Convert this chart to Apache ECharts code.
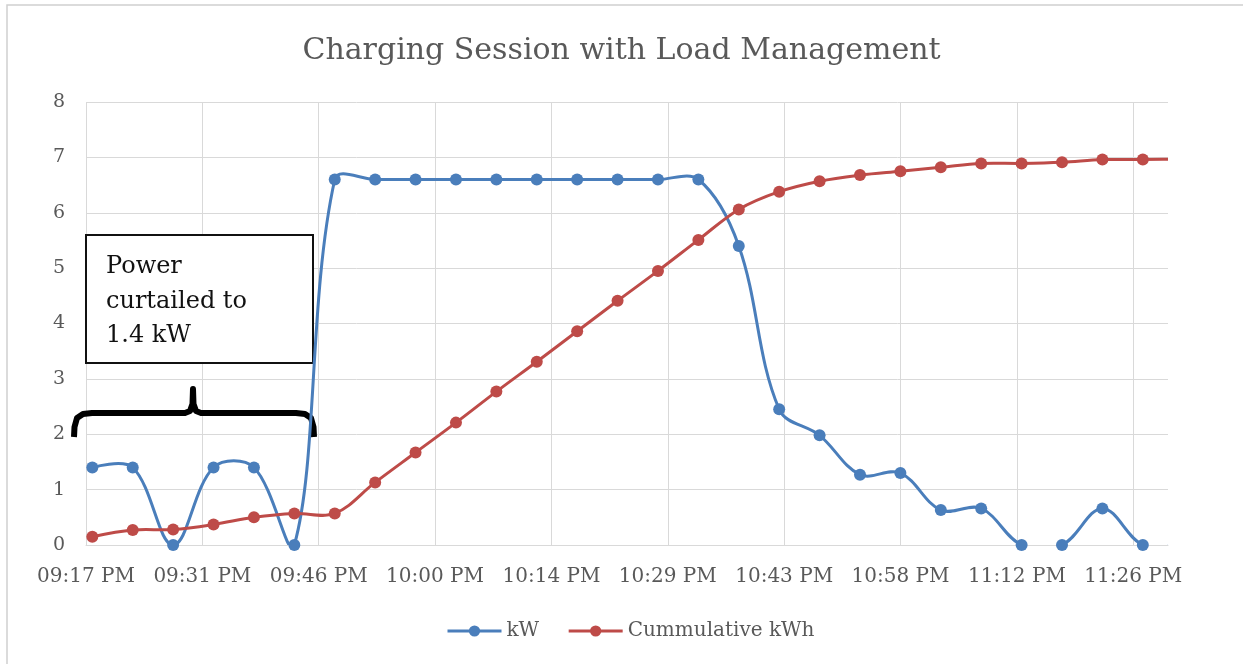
<!DOCTYPE html>
<html>
<head>
<meta charset="utf-8">
<script src="https://cdn.jsdelivr.net/npm/echarts@6/dist/echarts.min.js"></script>
<style>
  html, body { margin: 0; padding: 0; background: #fff; }
  #chart { width: 1243px; height: 664px; }
</style>
</head>
<body>
<div id="chart"></div>
<script>
// axis starts at 21:17, labels every 14.4 min (0.01 day, like the Excel date axis)
var axisStart = '21:17:00';
var axisEnd = '23:30:54';
var labelStep = 14.4;
var tickLabels = ['09:17 PM', '09:31 PM', '09:46 PM', '10:00 PM', '10:14 PM',
                  '10:29 PM', '10:43 PM', '10:58 PM', '11:12 PM', '11:26 PM'];

// sample times (the last two sit past the right edge)
var times = ['21:17:47', '21:22:47', '21:27:47', '21:32:47', '21:37:47', '21:42:47',
             '21:47:47', '21:52:47', '21:57:47', '22:02:47', '22:07:47', '22:12:47',
             '22:17:47', '22:22:47', '22:27:47', '22:32:47', '22:37:47', '22:42:47',
             '22:47:47', '22:52:47', '22:57:47', '23:02:47', '23:07:47', '23:12:47',
             '23:17:47', '23:22:47', '23:27:47', '23:32:47', '23:37:47'];

var kW = [1.4, 1.4, 0, 1.4, 1.4, 0, 6.6, 6.6, 6.6, 6.6, 6.6, 6.6, 6.6, 6.6,
          6.6, 6.6, 5.4, 2.45, 1.98, 1.27, 1.3, 0.63, 0.66, 0, 0, 0.66, 0, 0, 0];
var kWh = [0.15, 0.27, 0.28, 0.37, 0.5, 0.57, 0.57, 1.13, 1.67, 2.21, 2.77, 3.31, 3.86, 4.41,
           4.95, 5.51, 6.06, 6.38, 6.57, 6.68, 6.75, 6.82, 6.89, 6.89, 6.91, 6.96, 6.96, 6.97, 6.97];

var BLUE = '#4A7EBB';
var RED = '#BE4B48';
var GRID = '#D9D9D9';
var TXT = '#595959';
var FONT = '"DejaVu Serif", serif';

function toMin(s) {
    var p = s.split(':');
    return (+p[0]) * 60 + (+p[1]) + (+p[2]) / 60;
}
var t0 = toMin(axisStart);
var xs = times.map(function (s) { return toMin(s) - t0; });
var xMax = toMin(axisEnd) - t0;
var tickVals = tickLabels.map(function (l, k) { return k * labelStep; });

// Excel style smoothed line, no clamping of the control points
function curve(name, vals, color, z) {
    return {
        type: 'custom',
        name: name,
        z: z,
        clip: true,
        silent: true,
        data: vals.map(function (v, i) { return [xs[i], v]; }),
        renderItem: function (params, api) {
            var i = params.dataIndex;
            var n = vals.length;
            if (i >= n - 1) return;
            var P = function (k) {
                k = Math.max(0, Math.min(n - 1, k));
                return api.coord([xs[k], vals[k]]);
            };
            var s = 0.36;
            var p0 = P(i - 1), p1 = P(i), p2 = P(i + 1), p3 = P(i + 2);
            var d = function (a, b) { return Math.sqrt((a[0] - b[0]) * (a[0] - b[0]) + (a[1] - b[1]) * (a[1] - b[1])); };
            var c1 = p1.slice(), c2 = p2.slice();
            if (i > 0) {
                var r1 = d(p1, p2) / (d(p0, p1) + d(p1, p2));
                c1 = [p1[0] + (p2[0] - p0[0]) * s * r1, p1[1] + (p2[1] - p0[1]) * s * r1];
            }
            if (i + 1 < n - 1) {
                var r2 = d(p1, p2) / (d(p1, p2) + d(p2, p3));
                c2 = [p2[0] - (p3[0] - p1[0]) * s * r2, p2[1] - (p3[1] - p1[1]) * s * r2];
            }
            var cs = params.coordSys;
            return {
                type: 'bezierCurve',
                shape: { x1: p1[0], y1: p1[1], x2: p2[0], y2: p2[1],
                         cpx1: c1[0], cpy1: c1[1], cpx2: c2[0], cpy2: c2[1] },
                style: { stroke: color, lineWidth: 3, fill: null, lineCap: 'round' },
                clipPath: { type: 'rect', shape: { x: cs.x, y: cs.y - 2, width: cs.width, height: cs.height + 3 } }
            };
        }
    };
}

function markers(name, vals, color, z) {
    return {
        type: 'line',
        name: name,
        z: z,
        data: vals.map(function (v, i) { return [xs[i], v]; }),
        symbol: 'circle',
        symbolSize: 12,
        showSymbol: true,
        clip: true,
        itemStyle: { color: color },
        lineStyle: { color: color, width: 3, opacity: 0 },
        emphasis: { disabled: true }
    };
}

// curly bracket under the note
var bracePts = [[74, 437], [74.5, 427], [77, 418], [83, 414], [92, 413], [185, 413],
                [190, 411], [192.5, 404], [193, 389], [193.5, 404], [196, 411], [201, 413],
                [296, 413], [305, 414], [311, 418], [313.5, 427], [314, 437]];

var chart = echarts.init(document.getElementById('chart'));
chart.setOption({
    animation: false,
    title: {
        text: 'Charging Session with Load Management',
        left: 'center',
        top: 31,
        textStyle: { fontFamily: FONT, fontSize: 30, fontWeight: 'normal', color: TXT }
    },
    legend: {
        left: 441,
        top: 616,
        itemWidth: 54,
        itemHeight: 14,
        itemGap: 28,
        textStyle: { fontFamily: FONT, fontSize: 20, color: TXT },
        data: [
            { name: 'kW', lineStyle: { color: BLUE, width: 3, opacity: 1 } },
            { name: 'Cummulative kWh', lineStyle: { color: RED, width: 3, opacity: 1 } }
        ]
    },
    grid: { left: 86, right: 75, top: 102, bottom: 119 },
    xAxis: {
        type: 'value',
        min: 0,
        max: xMax,
        interval: labelStep,
        axisLine: { show: true, lineStyle: { color: GRID, width: 1 } },
        axisTick: { show: false, customValues: tickVals },
        axisLabel: {
            customValues: tickVals,
            margin: 22,
            fontFamily: FONT,
            fontSize: 20,
            color: TXT,
            formatter: function (v) {
                var k = Math.round(v / labelStep);
                return Math.abs(v - k * labelStep) < 0.01 ? tickLabels[k] : '';
            }
        },
        splitLine: { show: true, lineStyle: { color: GRID, width: 1 } }
    },
    yAxis: {
        type: 'value',
        min: 0,
        max: 8,
        interval: 1,
        axisLine: { show: false },
        axisTick: { show: false },
        axisLabel: { margin: 21, fontFamily: FONT, fontSize: 19, color: TXT },
        splitLine: { lineStyle: { color: GRID, width: 1 } }
    },
    graphic: [
        { type: 'rect', z: 0, silent: true,
          shape: { x: 7, y: 5, width: 1260, height: 680 },
          style: { fill: null, stroke: '#D0D0D0', lineWidth: 1.5 } },
        { type: 'rect', z: 1, silent: true,
          shape: { x: 86, y: 235, width: 227, height: 128 },
          style: { fill: '#fff', stroke: '#111', lineWidth: 2 } },
        { type: 'text', z: 1, silent: true, x: 106, y: 250,
          style: { text: 'Power\ncurtailed to\n1.4 kW', fontFamily: FONT, fontSize: 24,
                   lineHeight: 34.5, fill: '#111' } },
        { type: 'polyline', z: 1, silent: true,
          shape: { points: bracePts },
          style: { fill: null, stroke: '#000', lineWidth: 6, lineJoin: 'round' } }
    ],
    series: [
        curve('kW line', kW, BLUE, 2),
        markers('kW', kW, BLUE, 3),
        curve('kWh line', kWh, RED, 4),
        markers('Cummulative kWh', kWh, RED, 5)
    ]
});
</script>
</body>
</html>
